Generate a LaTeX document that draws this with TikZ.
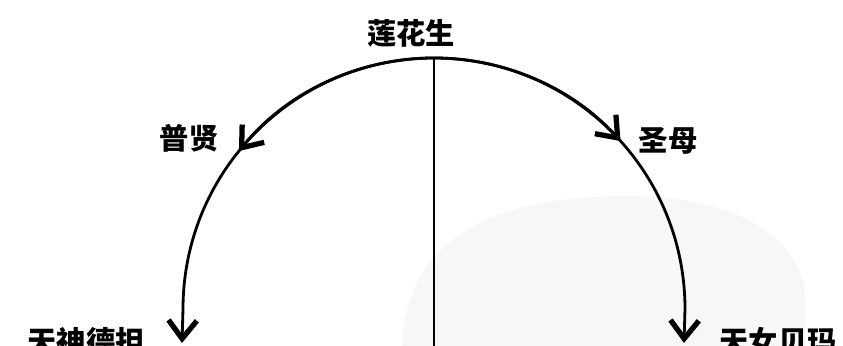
\documentclass[tikz,border=0pt]{standalone}
\usepackage{fontspec}
\newfontfamily\cjk{Noto Sans CJK SC}
\usetikzlibrary{arrows.meta}
\begin{document}
\begin{tikzpicture}
			[x=0.03cm,y=-0.03cm,
			lbl/.style={font=\cjk\bfseries\fontsize{25}{27}\selectfont,inner sep=0pt},
			arr/.style={-{Straight Barb[length=0.55cm,width=0.85cm,line width=4.5pt]},line width=2.4pt},
			>=latex]
			\useasboundingbox (0,0) rectangle (843,346);
			\clip (0,0) rectangle (843,346);
			% faint background blob
			\fill[gray!6] (402,346) .. controls (405,270) and (450,215) .. (560,200)
				.. controls (680,185) and (790,210) .. (805,290) -- (805,346) -- cycle;
			\coordinate (top) at (434,58);
			\coordinate (bot) at (434,346);
			\coordinate (lend) at (182,343);
			\coordinate (rend) at (684,343);
			\node[lbl,name=lhs]at(411,33){莲花生};
			\node[lbl,name=pux]at(189,138){普贤};
			\node[lbl,name=shm]at(668,141){圣母};
			\node[lbl,name=tsd]at(86,341){天神德担};
			\node[lbl,name=tnb]at(778,341){天女贝玛};
			\draw[line width=2.4pt](top) --(bot);
			\draw[arr](top) arc[start angle=270,end angle=219,radius=251];
			\draw[arr](top) arc[start angle=270,end angle=180,radius=251] --(lend);
			\draw[arr](top) arc[start angle=270,end angle=318,radius=251];
			\draw[arr](top) arc[start angle=270,end angle=360,radius=251] --(rend);
		\end{tikzpicture}
\end{document}
